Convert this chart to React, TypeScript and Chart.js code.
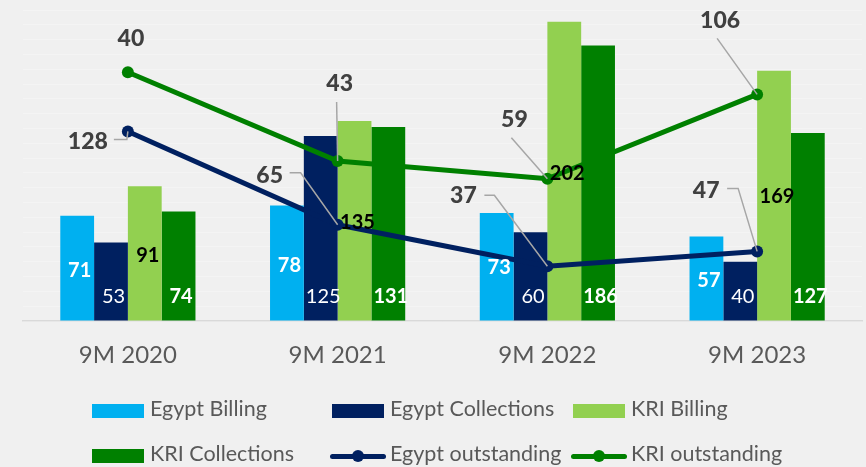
import React, { useEffect, useRef } from "react";
import { Chart, registerables } from "chart.js";

Chart.register(...registerables);

// ---- data ----
const categories = ["9M 2020", "9M 2021", "9M 2022", "9M 2023"];
const egyptBilling = [71, 78, 73, 57];
const egyptCollections = [53, 125, 60, 40];
const kriBilling = [91, 135, 202, 169];
const kriCollections = [74, 131, 186, 127];
const egyptOutstanding = [128, 65, 37, 47];
// KRI outstanding: the labels printed in the source, and the heights at which the line is drawn there
const kriOutstandingLabels = [40, 43, 59, 106];
const kriOutstandingPlotted = [168, 108, 96, 153];
const seriesNames = [
  "Egypt Billing",
  "Egypt Collections",
  "KRI Billing",
  "KRI Collections",
  "Egypt outstanding",
  "KRI outstanding",
];

// ---- styles ----
const C_EB = "#00B0F0";
const C_EC = "#002060";
const C_KB = "#92D050";
const C_KC = "#008000";
const BG = "#f0f0f0";
const FONT = "Lato, 'Open Sans', sans-serif";
const LEGEND_SIZE = 21.5;

// label layout (pixel offsets): bars relative to bar base, lines relative to point
const barLabelDx = [2.5, 2.5, 3, 2.5];
const barLabelDy = [
  [-51, -56, -54, -41],
  [-25, -25, -25, -25],
  [-66, -99, -148, -125],
  [-25, -25, -25, -25],
];
const egyptLabelOff = [
  [-40, 9],
  [-68, -50],
  [-84, -71],
  [-51, -62],
];
const egyptLeaders = [
  [[-14, 8], [-1, 8]],
  [[-48, -52], [-37, -52]],
  [[-63, -71], [-53, -71]],
  [[-30, -63], [-19, -63]],
];
const kriLabelOff = [
  [3, -34],
  [2, -78],
  [-33, -60],
  [-37, -75],
];
const kriLeaders = [[], [[-1, -59]], [[-36, -41]], [[-40, -56]]];

const labelPlugin = {
  id: "valueLabels",
  afterDatasetsDraw(chart: any) {
    const ctx = chart.ctx as CanvasRenderingContext2D;
    ctx.save();
    const text = (t: string, cx: number, cy: number, size: number, weight: string, color: string) => {
      ctx.font = `${weight} ${size}px ${FONT}`;
      ctx.fillStyle = color;
      ctx.textAlign = "center";
      ctx.textBaseline = "alphabetic";
      ctx.fillText(t, cx, cy + size * 0.36);
    };
    // leader lines
    const drawLeaders = (dsIndex: number, leaders: number[][][]) => {
      const meta = chart.getDatasetMeta(dsIndex);
      meta.data.forEach((pt: any, i: number) => {
        const segs = leaders[i];
        if (!segs || !segs.length) return;
        ctx.beginPath();
        ctx.strokeStyle = "#a6a6a6";
        ctx.lineWidth = 1.5;
        ctx.moveTo(pt.x + segs[0][0], pt.y + segs[0][1]);
        for (let k = 1; k < segs.length; k++) ctx.lineTo(pt.x + segs[k][0], pt.y + segs[k][1]);
        ctx.lineTo(pt.x, pt.y);
        ctx.stroke();
      });
    };
    drawLeaders(4, egyptLeaders);
    drawLeaders(5, kriLeaders);

    // bar labels
    const barSeries = [egyptBilling, egyptCollections, kriBilling, kriCollections];
    const barColors = ["#ffffff", "#ffffff", "#000000", "#ffffff"];
    const barWeights = ["bold", "normal", "bold", "bold"];
    barSeries.forEach((vals, d) => {
      const meta = chart.getDatasetMeta(d);
      meta.data.forEach((bar: any, i: number) => {
        text(String(vals[i]), bar.x + barLabelDx[d], bar.base + barLabelDy[d][i], 20, barWeights[d], barColors[d]);
      });
    });

    // line labels
    const eMeta = chart.getDatasetMeta(4);
    eMeta.data.forEach((pt: any, i: number) => {
      text(String(egyptOutstanding[i]), pt.x + egyptLabelOff[i][0], pt.y + egyptLabelOff[i][1], 23, "900", "#404040");
    });
    const kMeta = chart.getDatasetMeta(5);
    kMeta.data.forEach((pt: any, i: number) => {
      text(String(kriOutstandingLabels[i]), pt.x + kriLabelOff[i][0], pt.y + kriLabelOff[i][1], 23, "900", "#404040");
    });
    ctx.restore();
  },
};

const colX = [92, 332, 573];
const rowSwatchTop = [404, 449];
const rowBaseline = [417.5, 462];

function LegendItem({ name, color, kind, col, row }: { name: string; color: string; kind: string; col: number; row: number }) {
  const x = colX[col];
  const symbol =
    kind === "box" ? (
      <div style={{ position: "absolute", left: x, top: rowSwatchTop[row], width: 52, height: 14, background: color }} />
    ) : (
      <div style={{ position: "absolute", left: x - 2, top: rowSwatchTop[row], width: 56, height: 14 }}>
        <div style={{ position: "absolute", left: 0, top: 4.5, width: 56, height: 5, borderRadius: 2.5, background: color }} />
        <div style={{ position: "absolute", left: 22, top: 1, width: 12, height: 12, borderRadius: 6, background: color }} />
      </div>
    );
  return (
    <>
      {symbol}
      <div
        style={{
          position: "absolute",
          left: x + 58,
          top: rowBaseline[row] - LEGEND_SIZE * 0.887,
          font: `${LEGEND_SIZE}px ${FONT}`,
          lineHeight: `${LEGEND_SIZE}px`,
          color: "#595959",
          whiteSpace: "nowrap",
        }}
      >
        {name}
      </div>
    </>
  );
}

export default function App() {
  const ref = useRef<HTMLCanvasElement>(null);
  useEffect(() => {
    document.body.style.margin = "0";
    document.body.style.background = BG;
    const chart = new Chart(ref.current as HTMLCanvasElement, {
      type: "bar",
      data: {
        labels: categories,
        datasets: [
          { label: seriesNames[0], data: egyptBilling, backgroundColor: C_EB, order: 2 } as any,
          { label: seriesNames[1], data: egyptCollections, backgroundColor: C_EC, order: 2 },
          { label: seriesNames[2], data: kriBilling, backgroundColor: C_KB, order: 2 },
          { label: seriesNames[3], data: kriCollections, backgroundColor: C_KC, order: 2 },
          {
            type: "line",
            label: seriesNames[4],
            data: egyptOutstanding,
            borderColor: C_EC,
            backgroundColor: C_EC,
            borderWidth: 5,
            pointRadius: 6,
            pointBackgroundColor: C_EC,
            pointBorderColor: C_EC,
            pointBorderWidth: 0,
            tension: 0,
            order: 0,
          },
          {
            type: "line",
            label: seriesNames[5],
            data: kriOutstandingPlotted,
            borderColor: C_KC,
            backgroundColor: C_KC,
            borderWidth: 5,
            pointRadius: 6,
            pointBackgroundColor: C_KC,
            pointBorderColor: C_KC,
            pointBorderWidth: 0,
            tension: 0,
            order: 1,
          },
        ],
      },
      options: {
        responsive: false,
        animation: false,
        layout: { padding: { left: 23, right: 0, top: 10, bottom: 87 } },
        datasets: { bar: { barPercentage: 1, categoryPercentage: 0.6445, borderWidth: 0 } },
        plugins: { legend: { display: false }, tooltip: { enabled: false } },
        scales: {
          x: {
            grid: { display: false, drawTicks: false },
            border: { display: true, color: "#d9d9d9", width: 1.5 },
            ticks: { font: { family: FONT, size: 24 }, color: "#595959", padding: 20 },
            afterFit: (s: any) => {
              s.height = 59;
            },
          },
          y: {
            display: true,
            min: 0,
            max: 210,
            ticks: { display: false, stepSize: 10 },
            grid: { color: "#f4f4f4", drawTicks: false },
            border: { display: false },
          },
        },
      },
      plugins: [labelPlugin],
    });
    return () => chart.destroy();
  }, []);

  const legend = [
    { name: seriesNames[0], color: C_EB, kind: "box", col: 0, row: 0 },
    { name: seriesNames[1], color: C_EC, kind: "box", col: 1, row: 0 },
    { name: seriesNames[2], color: C_KB, kind: "box", col: 2, row: 0 },
    { name: seriesNames[3], color: C_KC, kind: "box", col: 0, row: 1 },
    { name: seriesNames[4], color: C_EC, kind: "line", col: 1, row: 1 },
    { name: seriesNames[5], color: C_KC, kind: "line", col: 2, row: 1 },
  ];

  return (
    <div style={{ position: "fixed", left: 0, top: 0, width: 866, height: 467, overflow: "hidden", background: BG }}>
      <canvas ref={ref} width={868} height={467} style={{ position: "absolute", left: 0, top: 0, width: 868, height: 467 }} />
      {legend.map((it) => (
        <LegendItem key={it.name} {...it} />
      ))}
    </div>
  );
}
